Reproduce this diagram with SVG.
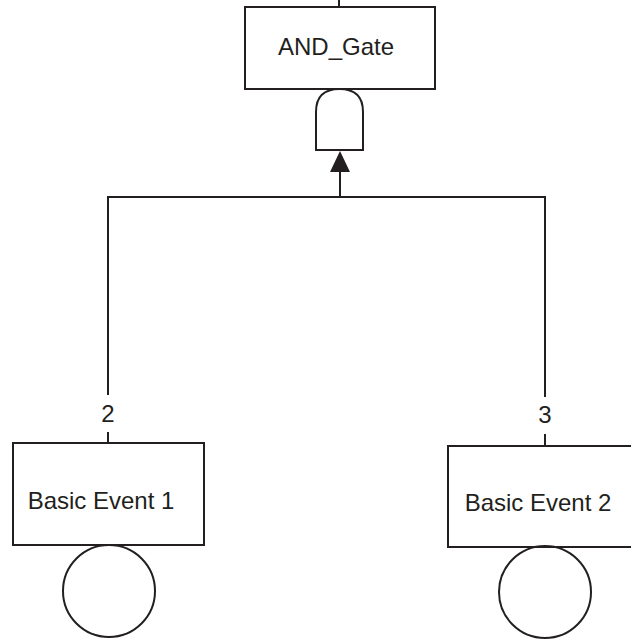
<svg xmlns="http://www.w3.org/2000/svg" width="631" height="639" viewBox="0 0 631 639">
<defs>
<style>
.box{fill:#fff;stroke:#231f20;stroke-width:2}
.ln{fill:none;stroke:#231f20;stroke-width:2}
.t{font-family:"Liberation Sans",Arial,sans-serif;font-size:24px;fill:#231f20;text-anchor:middle}
</style>
</defs>
<rect width="631" height="639" fill="#fff"/>
<g id="connectors">
<line class="ln" x1="339" y1="0" x2="339" y2="7"/>
<polyline class="ln" points="108,395 108,197 545,197 545,397"/>
<line class="ln" x1="340" y1="197" x2="340" y2="170"/>
<polygon points="340,151 330,172 350,172" fill="#231f20"/>
<line class="ln" x1="108" y1="432" x2="108" y2="443"/>
<line class="ln" x1="545" y1="434" x2="545" y2="446"/>
<text class="t" x="108" y="422">2</text>
<text class="t" x="545" y="423">3</text>
</g>
<g id="and_gate">
<rect class="box" x="245" y="7" width="190" height="82"/>
<text class="t" x="336" y="55">AND_Gate</text>
<path class="ln" d="M316,150 L316,112 Q316,89 339.5,89 Q363,89 363,112 L363,150 Z" fill="#fff"/>
</g>
<g id="basic_event_1">
<rect class="box" x="13" y="443" width="191" height="102"/>
<text class="t" x="101" y="509">Basic Event 1</text>
<circle class="ln" cx="109" cy="591" r="46"/>
</g>
<g id="basic_event_2">
<rect class="box" x="448" y="446" width="194" height="101"/>
<text class="t" x="538" y="511">Basic Event 2</text>
<circle class="ln" cx="545" cy="592" r="46"/>
</g>
</svg>
